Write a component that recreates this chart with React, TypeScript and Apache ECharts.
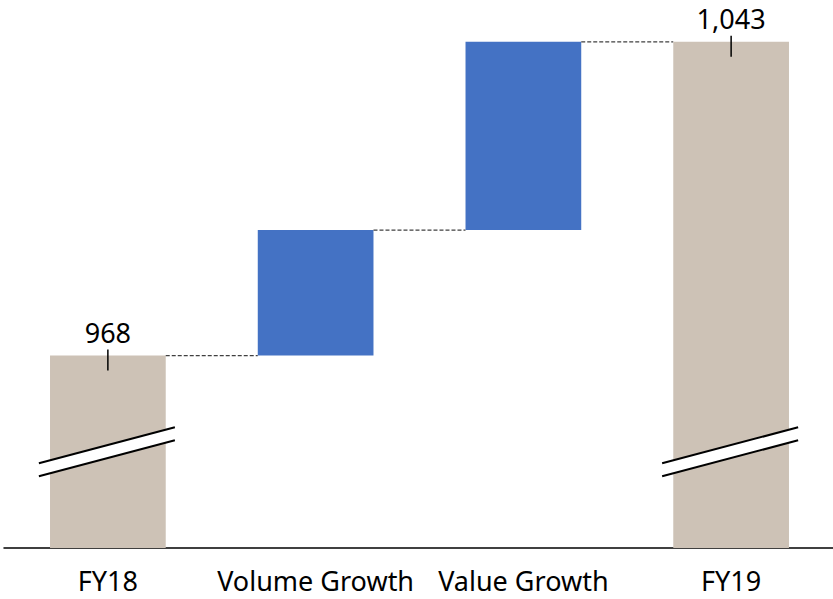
import React, { useEffect, useRef } from "react";
import * as echarts from "echarts";

const categories = ["FY18", "Volume Growth", "Value Growth", "FY19"];
const startTotal = 968;
const growthSteps = [30, 45];
const endTotal = 1043;
const axisMin = 922;
const axisMax = 1053;
const breakValue = 945;

const TOTAL_COLOR = "#CDC2B6";
const STEP_COLOR = "#4472C4";
const FONT = "'Noto Sans', 'Open Sans', sans-serif";

function buildData() {
  const rows: number[][] = [];
  rows.push([0, 0, startTotal, 1]);
  let run = startTotal;
  growthSteps.forEach((d, k) => {
    rows.push([k + 1, run, run + d, 0]);
    run += d;
  });
  rows.push([categories.length - 1, 0, endTotal, 1]);
  return rows;
}

export default function App() {
  const ref = useRef<HTMLDivElement>(null);
  useEffect(() => {
    if (!ref.current) return;
    const chart = echarts.init(ref.current, undefined, { renderer: "svg" });
    const data = buildData();
    const n = categories.length;
    chart.setOption({
      animation: false,
      grid: { left: 4, right: 0, top: 0, bottom: 51 },
      xAxis: {
        type: "category",
        data: categories,
        axisTick: { show: false },
        axisLine: { lineStyle: { color: "#000", width: 1.5 } },
        axisLabel: {
          color: "#000",
          fontSize: 27,
          fontFamily: FONT,
          margin: 19,
          interval: 0,
        },
      },
      yAxis: {
        type: "value",
        min: axisMin,
        max: axisMax,
        show: false,
        splitLine: { show: false },
      },
      series: [
        {
          type: "custom",
          clip: false,
          encode: { x: 0, y: [1, 2] },
          data,
          renderItem: (params: any, api: any) => {
            const i = api.value(0);
            const low = api.value(1);
            const high = api.value(2);
            const isTotal = api.value(3) === 1;
            const [cx, yTop] = api.coord([i, high]);
            const yBot = api.coord([i, Math.max(low, axisMin)])[1];
            const bw = api.size([1, 0])[0] * 0.557;
            const children: any[] = [
              {
                type: "rect",
                shape: { x: cx - bw / 2, y: yTop, width: bw, height: yBot - yTop },
                style: { fill: isTotal ? TOTAL_COLOR : STEP_COLOR },
              },
            ];
            if (i < n - 1) {
              const nx = api.coord([i + 1, high])[0];
              children.push({
                type: "line",
                shape: { x1: cx + bw / 2, y1: yTop, x2: nx - bw / 2, y2: yTop },
                style: { stroke: "#404040", lineWidth: 1.2, lineDash: [4, 2] },
              });
            }
            if (isTotal) {
              const yb = api.coord([i, breakValue])[1];
              const xl = cx - 69;
              const xr = cx + 67;
              children.push({
                type: "polygon",
                shape: {
                  points: [
                    [xl, yb + 11.5],
                    [xr, yb - 24.5],
                    [xr, yb - 11.5],
                    [xl, yb + 24.5],
                  ],
                },
                style: { fill: "#fff" },
              });
              children.push({
                type: "line",
                shape: { x1: xl, y1: yb + 11.5, x2: xr, y2: yb - 24.5 },
                style: { stroke: "#000", lineWidth: 2 },
              });
              children.push({
                type: "line",
                shape: { x1: xl, y1: yb + 24.5, x2: xr, y2: yb - 11.5 },
                style: { stroke: "#000", lineWidth: 2 },
              });
              children.push({
                type: "line",
                shape: { x1: cx, y1: yTop - 6, x2: cx, y2: yTop + 15 },
                style: { stroke: "#000", lineWidth: 1.5 },
              });
              children.push({
                type: "text",
                style: {
                  text: high.toLocaleString("en-US"),
                  x: cx,
                  y: yTop - 23,
                  align: "center",
                  verticalAlign: "middle",
                  fill: "#000",
                  fontSize: 27,
                  fontFamily: FONT,
                },
              });
            }
            return { type: "group", children };
          },
        },
      ],
    });
    return () => chart.dispose();
  }, []);
  return (
    <div
      style={{
        position: "absolute",
        left: 0,
        top: 0,
        width: 833,
        height: 599,
        overflow: "hidden",
      }}
    >
      <div ref={ref} style={{ width: 835, height: 599 }} />
    </div>
  );
}
